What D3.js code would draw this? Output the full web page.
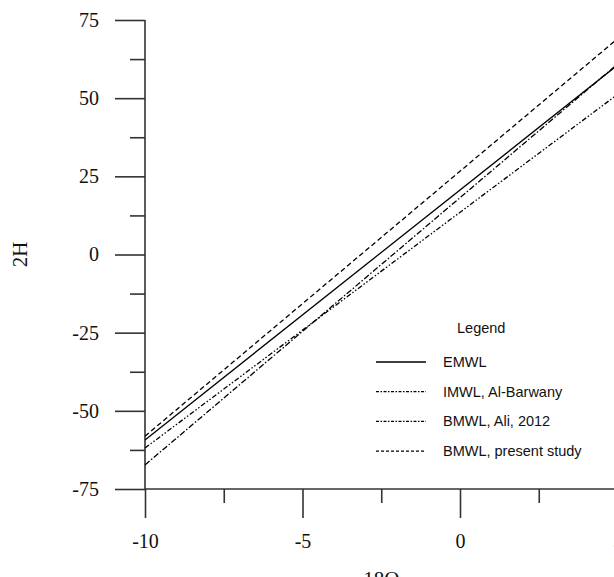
<!DOCTYPE html>
<html>
<head>
<meta charset="utf-8">
<script src="https://cdn.jsdelivr.net/npm/d3@7"></script>
<style>
  body { margin: 0; background: #fff; }
  svg text { fill: #111; }
</style>
</head>
<body>
<script>
// meteoric water lines, value of 2H at 18O = -10 and 18O = 5
const seriesNames = ["EMWL", "IMWL, Al-Barwany", "BMWL, Ali, 2012", "BMWL, present study"]
const startValues = [-59.3, -61.9, -67.3, -58.1]
const endValues = [60.6, 51.2, 60.9, 69.0]
const xRange = [-10, 5]
const xMajor = [-10, -5, 0, 5]
const xMinor = [-7.5, -2.5, 2.5]
const yMajor = [-75, -50, -25, 0, 25, 50, 75]
const yMinor = [-62.5, -37.5, -12.5, 12.5, 37.5, 62.5]

const dashes = ["none", "5,2,1.5,2,1.5,2", "6,2,1.5,2", "5,3"]

const svg = d3.select('body').append('svg')
  .attr('width', 614)
  .attr('height', 577)

const scaleX = d3.scaleLinear().domain([-10, 5]).range([145, 617.5])
const scaleY = d3.scaleLinear().domain([-75, 75]).range([489, 20])

const serif = 'Liberation Serif, Times New Roman, serif'
const fmt = d => String(d)  // plain hyphen minus, as in the original

// y axis
const gy = svg.append('g').attr('transform', 'translate(145,0)')
gy.call(d3.axisLeft(scaleY).tickValues(yMajor).tickSize(30).tickPadding(16).tickFormat(fmt).tickSizeOuter(0))
gy.append('g').call(d3.axisLeft(scaleY).tickValues(yMinor).tickSize(15).tickFormat('').tickSizeOuter(0))
gy.selectAll('path.domain').remove()
gy.append('line').attr('y1', scaleY(75)).attr('y2', scaleY(-75)).attr('stroke', '#333').attr('stroke-width', 1.6)

// x axis
const gx = svg.append('g').attr('transform', 'translate(0,489)')
gx.call(d3.axisBottom(scaleX).tickValues(xMajor).tickSize(29).tickPadding(16).tickFormat(fmt).tickSizeOuter(0))
gx.append('g').call(d3.axisBottom(scaleX).tickValues(xMinor).tickSize(14).tickFormat('').tickSizeOuter(0))
gx.selectAll('path.domain').remove()
gx.append('line').attr('x1', scaleX(-10)).attr('x2', scaleX(5)).attr('stroke', '#333').attr('stroke-width', 1.6)

svg.selectAll('.tick line').attr('stroke', '#333').attr('stroke-width', 1.6)
svg.selectAll('.tick text').attr('font-family', serif).attr('font-size', 20).attr('fill', '#111')

// axis titles
svg.append('text').attr('x', scaleX(-2.5)).attr('y', 586)
  .attr('text-anchor', 'middle').attr('font-family', serif).attr('font-size', 21).text('18O')
svg.append('text').attr('transform', `translate(27,${scaleY(0)}) rotate(-90)`)
  .attr('text-anchor', 'middle').attr('font-family', serif).attr('font-size', 21).text('2H')

// lines
const lineData = seriesNames.map((n, i) => ({name: n, dash: dashes[i],
  pts: [[xRange[0], startValues[i]], [xRange[1], endValues[i]]]}))
const line = d3.line().x(d => scaleX(d[0])).y(d => scaleY(d[1]))
svg.selectAll('path.mwl')
  .data(lineData)
  .enter()
  .append('path')
  .attr('class', 'mwl')
  .attr('d', d => line(d.pts))
  .attr('fill', 'none')
  .attr('stroke', '#000')
  .attr('stroke-width', 1.3)
  .attr('stroke-dasharray', d => d.dash)

// legend
const lg = svg.append('g').attr('font-family', 'Liberation Sans, Arial, sans-serif').attr('font-size', 14.5)
lg.append('text').attr('x', 457).attr('y', 333).text('Legend')
const rows = lg.selectAll('g.row').data(lineData).enter().append('g')
  .attr('transform', (d, i) => `translate(0,${362 + i * 29.7})`)
rows.append('line').attr('x1', 376).attr('x2', 426)
  .attr('stroke', '#000').attr('stroke-width', 1.3).attr('stroke-dasharray', d => d.dash === 'none' ? null : '3,1.5,1.5,1.5')
rows.filter((d, i) => i === 3).select('line').attr('stroke-dasharray', '3,2')
rows.append('text').attr('x', 443).attr('y', 5).text(d => d.name)
</script>
</body>
</html>
